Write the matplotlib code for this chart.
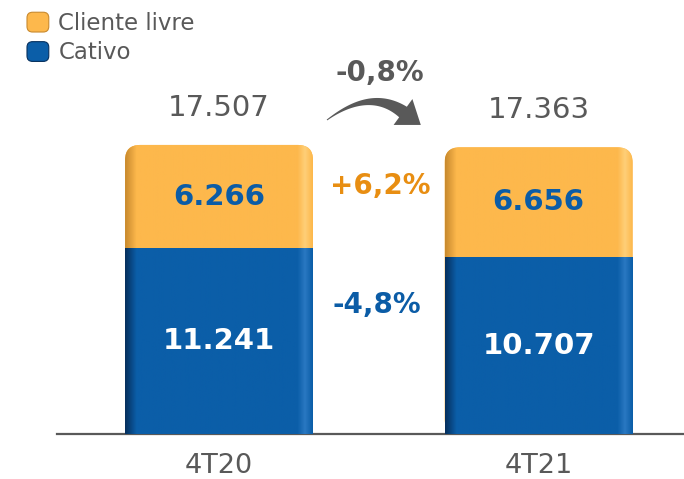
import numpy as np
import matplotlib
matplotlib.use("Agg")
import matplotlib.pyplot as plt
from matplotlib.patches import FancyBboxPatch, Rectangle, Polygon, Patch
from matplotlib.transforms import IdentityTransform
from matplotlib.legend_handler import HandlerPatch

categories = ["4T20", "4T21"]
cliente_livre = [6266, 6656]
cativo = [11241, 10707]
totals = [17507, 17363]
value_labels_livre = ["6.266", "6.656"]
value_labels_cativo = ["11.241", "10.707"]
total_labels = ["17.507", "17.363"]
delta_total = "-0,8%"
delta_livre = "+6,2%"
delta_cativo = "-4,8%"
series_names = ["Cliente livre", "Cativo"]

ORANGE = "#FDB84C"
BLUE = "#0B5EA8"
GRAY = "#595959"
W, H = 684, 479

fig = plt.figure(figsize=(W / 100, H / 100), dpi=100)
ax = fig.add_axes([57 / W, 45 / H, 627 / W, 434 / H])
x = np.arange(len(categories))
width = 0.588
ax.set_xlim(-0.507, 1.455)
ax.set_ylim(0, 26287)

b_cat = ax.bar(x, cativo, width, color=BLUE, label=series_names[1], zorder=3)
b_liv = ax.bar(x, cliente_livre, width, bottom=cativo, color=ORANGE,
               label=series_names[0], zorder=2)

fig.canvas.draw()
p0 = ax.transData.transform((0, 0))
p1 = ax.transData.transform((1, 1))
ux = 1 / (p1[0] - p0[0])
uy = 1 / (p1[1] - p0[1])
aspect = uy / ux
r = 15 * ux


def gradient(base, dark, light, n=200):
    base = np.array(matplotlib.colors.to_rgb(base))
    dark = np.array(matplotlib.colors.to_rgb(dark))
    light = np.array(matplotlib.colors.to_rgb(light))
    t = np.linspace(0, 1, n)
    cols = np.zeros((n, 3))
    for i, tt in enumerate(t):
        if tt < 0.06:
            f = tt / 0.06
            c = dark * (1 - f) + base * f
        elif tt > 0.96:
            f = (tt - 0.96) / 0.04
            c = light * (1 - f) + base * f
        elif tt > 0.92:
            f = (tt - 0.92) / 0.04
            c = base * (1 - f) + light * f
        else:
            c = base
        cols[i] = c
    return cols[np.newaxis, :, :]


for bl, bc in zip(b_liv, b_cat):
    bl.set_visible(False)
    xl, w = bl.get_x(), bl.get_width()
    top = bl.get_y() + bl.get_height()
    rp = FancyBboxPatch((xl, 0), w, top,
                        boxstyle=f"round,pad=0,rounding_size={r}",
                        mutation_aspect=aspect, facecolor=ORANGE,
                        edgecolor="none", zorder=2)
    ax.add_patch(rp)
    im = ax.imshow(gradient(ORANGE, "#C98A2E", "#FFCF78"),
                   extent=(xl, xl + w, 0, top), aspect="auto", zorder=2.1)
    im.set_clip_path(rp)
    bc.set_visible(False)
    rc = Rectangle((bc.get_x(), 0), bc.get_width(), bc.get_height(),
                   facecolor=BLUE, edgecolor="none", zorder=3)
    ax.add_patch(rc)
    im2 = ax.imshow(gradient(BLUE, "#06305E", "#2A78C2"),
                    extent=(bc.get_x(), bc.get_x() + bc.get_width(), 0, bc.get_height()),
                    aspect="auto", zorder=3.1)
    im2.set_clip_path(rc)

ax.set_xlim(-0.507, 1.455)
ax.set_ylim(0, 26287)

for i in range(len(categories)):
    ax.text(x[i], cativo[i] + cliente_livre[i] / 2, value_labels_livre[i],
            ha="center", va="center", fontsize=21, fontweight="bold",
            color="#0B5CA6", zorder=5)
    ax.text(x[i], cativo[i] / 2, value_labels_cativo[i],
            ha="center", va="center", fontsize=21, fontweight="bold",
            color="white", zorder=5)
    ax.annotate(total_labels[i], (x[i], totals[i]), xytext=(0, 37),
                textcoords="offset pixels", ha="center", va="center",
                fontsize=21, color=GRAY, zorder=5)

ax.text((380 - 57) / 627, (434 - 186) / 434, delta_livre, transform=ax.transAxes,
        ha="center", va="center", fontsize=20, fontweight="bold", color="#E88E12")
ax.text((377 - 57) / 627, (434 - 305) / 434, delta_cativo, transform=ax.transAxes,
        ha="center", va="center", fontsize=20, fontweight="bold", color="#0B5CA6")
ax.text((380 - 57) / 627, (434 - 73) / 434, delta_total, transform=ax.transAxes,
        ha="center", va="center", fontsize=20, fontweight="bold", color=GRAY)

# curved tapered arrow (pixel geometry, y measured from top)
P0 = np.array([327.0, 120.0])
P1 = np.array([370.0, 88.0])
P2 = np.array([403.0, 112.0])
t = np.linspace(0, 1, 60)
pts = ((1 - t) ** 2)[:, None] * P0 + (2 * (1 - t) * t)[:, None] * P1 + (t ** 2)[:, None] * P2
der = (2 * (1 - t))[:, None] * (P1 - P0) + (2 * t)[:, None] * (P2 - P1)
tan = der / np.linalg.norm(der, axis=1)[:, None]
nrm = np.stack([-tan[:, 1], tan[:, 0]], axis=1)
hw = 0.5 + 6.0 * t ** 1.2
upper = pts + nrm * hw[:, None]
lower = pts - nrm * hw[:, None]
tg = tan[-1]
ng = nrm[-1]
tip = P2 + tg * 22
hb1 = P2 + ng * 16
hb2 = P2 - ng * 16
poly = np.vstack([upper, hb1[None], tip[None], hb2[None], lower[::-1]])
poly[:, 1] = H - poly[:, 1]
ax.add_patch(Polygon(poly, closed=True, transform=IdentityTransform(),
                     facecolor=GRAY, edgecolor="none", zorder=5))

for s in ["top", "right", "left"]:
    ax.spines[s].set_visible(False)
ax.spines["bottom"].set_color(GRAY)
ax.spines["bottom"].set_linewidth(1.6)
ax.set_yticks([])
ax.set_xticks(x)
ax.set_xticklabels(categories, fontsize=19.5, color=GRAY)
ax.tick_params(axis="x", length=0, pad=14)


def rounded_handle(legend, orig_handle, xdescent, ydescent, width, height, fontsize):
    return FancyBboxPatch((-xdescent, -ydescent), width, height,
                          boxstyle="round,pad=0,rounding_size=4")


handles = [Patch(facecolor=ORANGE, edgecolor="#C98A2E", linewidth=0.8),
           Patch(facecolor=BLUE, edgecolor="#06305E", linewidth=0.8)]
fig.legend(handles, series_names, loc="upper left",
           bbox_to_anchor=(27 / W, 1 - 12 / H), frameon=False,
           fontsize=16.5, handlelength=0.95, handleheight=0.95,
           handletextpad=0.42, labelspacing=0.28, borderpad=0,
           borderaxespad=0, labelcolor=GRAY,
           handler_map={Patch: HandlerPatch(patch_func=rounded_handle)})

fig.savefig("out.png", dpi=100)
